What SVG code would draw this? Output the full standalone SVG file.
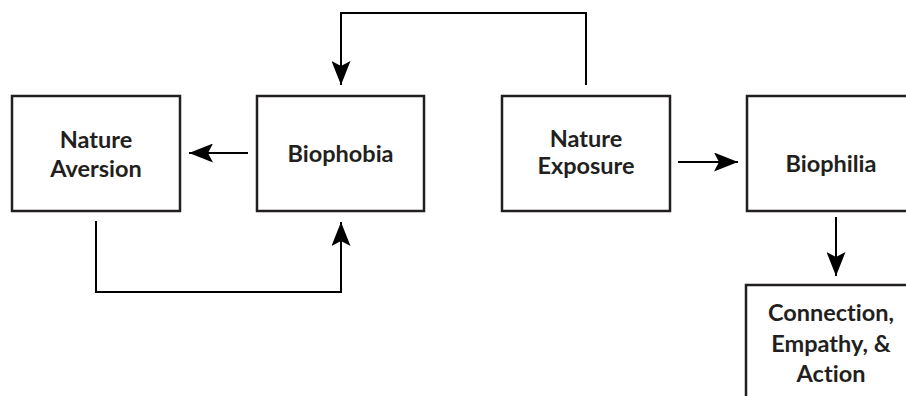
<svg xmlns="http://www.w3.org/2000/svg" width="906" height="396" viewBox="0 0 906 396">
<style>
.box{fill:#fff;stroke:#231f20;stroke-width:2.5}
.lbl{font-family:Lato,"Noto Sans",sans-serif;font-weight:bold;font-size:23.5px;fill:#231f20;text-anchor:middle;font-variant-ligatures:none}
.con{fill:none;stroke:#000;stroke-width:2}
</style>
<defs>
<marker id="ahb" markerWidth="24" markerHeight="19" refX="24" refY="9.5" orient="auto" markerUnits="userSpaceOnUse" viewBox="0 0 24 19">
<path d="M0,0 L24,9.5 L0,19 L5,9.5 Z" fill="#000"/>
</marker>
</defs>
<rect width="906" height="396" fill="#fff"/>
<g id="nature-aversion"><rect class="box" x="12" y="96" width="168" height="115"/><text class="lbl" x="96" y="148">Nature</text><text class="lbl" x="96" y="177">Aversion</text></g>
<g id="biophobia"><rect class="box" x="257" y="96" width="167" height="115"/><text class="lbl" x="340.5" y="162">Biophobia</text></g>
<g id="nature-exposure"><rect class="box" x="502" y="96" width="168" height="115"/><text class="lbl" x="586" y="147">Nature</text><text class="lbl" x="586" y="174">Exposure</text></g>
<g id="biophilia"><rect class="box" x="747" y="96" width="170" height="115"/><text class="lbl" x="831" y="172">Biophilia</text></g>
<g id="connection"><rect class="box" x="746" y="285" width="172" height="130"/><text class="lbl" x="831" y="321">Connection,</text><text class="lbl" x="831" y="352">Empathy, &amp;</text><text class="lbl" x="831" y="382">Action</text></g>
<g id="connectors">
<line class="con" x1="248" y1="153" x2="189" y2="153" marker-end="url(#ahb)"/>
<polyline class="con" points="586,85 586,13 341,13 341,85" marker-end="url(#ahb)"/>
<line class="con" x1="678" y1="162" x2="738" y2="162" marker-end="url(#ahb)"/>
<line class="con" x1="836" y1="217" x2="836" y2="276" marker-end="url(#ahb)"/>
<polyline class="con" points="96,221 96,292 341,292 341,222" marker-end="url(#ahb)"/>
</g>
</svg>
